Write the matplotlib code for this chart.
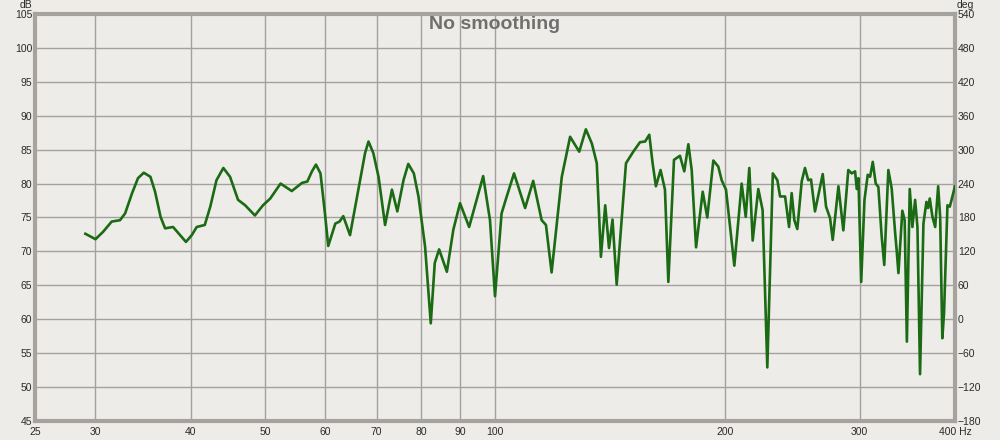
import matplotlib
matplotlib.use("Agg")
import matplotlib.pyplot as plt
from matplotlib.ticker import FixedLocator, FixedFormatter, NullLocator

# frequency response (Hz, dB SPL)
freq_hz = [
    29.1, 30.0, 30.7, 31.5, 32.3, 32.8, 33.5, 34.1, 34.7, 35.4, 35.9, 36.5,
    37.0, 37.9, 38.5, 39.4, 40.1, 40.7, 41.7, 42.4, 43.2, 44.1, 45.0, 46.1,
    47.1, 48.5, 49.7, 50.8, 52.4, 54.2, 55.9, 56.8, 57.6, 58.3, 59.1, 59.9,
    60.5, 61.8, 62.6, 63.3, 64.6, 66.6, 67.6, 68.3, 69.3, 70.4, 71.8, 73.3,
    74.5, 75.9, 77.0, 78.3, 79.4, 81.0, 82.4, 83.4, 84.5, 86.5, 88.2, 90.0,
    92.5, 96.5, 98.5, 100.0, 102.0, 103.6, 105.9, 109.5, 112.2, 115.1, 116.6, 118.6,
    122.3, 125.4, 128.9, 131.5, 133.9, 135.9, 137.6, 139.4, 141.0, 142.5, 144.3, 148.4,
    151.7, 154.8, 157.2, 159.2, 160.8, 162.4, 164.7, 166.9, 168.6, 171.5, 174.6, 176.9,
    179.1, 180.9, 183.3, 187.0, 189.6, 193.1, 196.0, 198.0, 200.6, 205.7, 210.3, 212.9,
    215.2, 217.4, 221.1, 224.0, 227.2, 231.0, 234.2, 236.1, 239.7, 242.6, 244.5, 246.5,
    248.7, 252.0, 254.5, 257.0, 259.2, 262.3, 268.5, 271.2, 274.5, 276.7, 281.5, 285.7,
    290.0, 293.0, 296.0, 297.5, 299.0, 301.5, 304.5, 307.5, 309.7, 312.2, 315.0, 317.5,
    320.7, 323.2, 327.2, 330.5, 334.0, 335.5, 337.3, 341.3, 343.7, 346.0, 349.0, 351.8,
    354.7, 357.2, 360.0, 363.7, 367.0, 368.8, 370.7, 373.7, 376.8, 380.2, 382.5, 385.0,
    387.0, 391.0, 393.8, 400.0,
]
spl_db = [
    72.6, 71.8, 72.9, 74.4, 74.6, 75.6, 78.6, 80.8, 81.6, 81.0, 78.8, 75.1,
    73.4, 73.6, 72.7, 71.4, 72.4, 73.6, 73.9, 76.6, 80.5, 82.3, 81.0, 77.6,
    76.8, 75.3, 76.8, 77.8, 80.0, 78.9, 80.1, 80.3, 81.8, 82.8, 81.5, 75.6,
    70.8, 74.1, 74.4, 75.2, 72.4, 80.5, 84.5, 86.2, 84.5, 81.0, 73.9, 79.1,
    75.9, 80.5, 82.9, 81.5, 78.1, 70.7, 59.4, 68.3, 70.3, 67.0, 73.2, 77.1,
    73.6, 81.1, 74.6, 63.4, 75.6, 78.1, 81.5, 76.4, 80.4, 74.6, 73.9, 66.9,
    81.0, 86.9, 84.7, 88.0, 85.9, 83.0, 69.2, 76.8, 70.5, 74.7, 65.1, 83.0,
    84.7, 86.1, 86.2, 87.2, 83.0, 79.6, 82.0, 79.1, 65.5, 83.5, 84.1, 81.8,
    85.8, 82.0, 70.6, 78.8, 75.0, 83.4, 82.5, 80.5, 79.1, 67.9, 80.0, 75.1,
    82.3, 71.6, 79.2, 76.1, 52.9, 81.5, 80.5, 78.1, 78.1, 73.6, 78.6, 74.6,
    73.3, 80.3, 82.3, 80.5, 80.6, 75.9, 81.4, 76.6, 74.9, 71.7, 79.6, 73.1,
    82.0, 81.5, 81.8, 79.2, 80.8, 65.5, 77.6, 81.3, 81.0, 83.2, 80.0, 79.5,
    72.2, 68.0, 82.0, 79.3, 72.7, 70.2, 66.8, 76.0, 74.6, 56.7, 79.2, 73.6,
    77.6, 73.6, 51.9, 74.1, 77.3, 76.4, 77.8, 75.1, 73.6, 79.6, 75.1, 57.2,
    60.9, 76.8, 76.6, 79.6,
]

x_ticks = [25, 30, 40, 50, 60, 70, 80, 90, 100, 200, 300, 400]
x_labels = ["25", "30", "40", "50", "60", "70", "80", "90", "100", "200", "300", "400 Hz"]
db_ticks = list(range(45, 106, 5))
deg_ticks = list(range(-180, 541, 60))

bg = "#eeece9"
grid_col = "#a3a09d"
frame_col = "#a6a29e"
text_col = "#2a2a2a"

plt.rcParams["font.family"] = ["Liberation Sans", "DejaVu Sans"]

fig = plt.figure(figsize=(10, 4.4), dpi=100, facecolor=bg)
ax = fig.add_axes([0.035, 0.0432, 0.92, 0.925], facecolor=bg)

ax.plot(freq_hz, spl_db, color="#1b6a14", lw=1.9, solid_joinstyle="round", zorder=3)

ax.set_xscale("log")
ax.set_xlim(25, 400)
ax.set_ylim(45, 105)
ax.xaxis.set_major_locator(FixedLocator(x_ticks))
ax.xaxis.set_major_formatter(FixedFormatter(x_labels))
ax.xaxis.set_minor_locator(NullLocator())
ax.set_yticks(db_ticks)
ax.grid(True, color=grid_col, lw=1.0)
ax.tick_params(length=0, labelsize=7.5, colors=text_col, pad=2)
ax.tick_params(axis="x", pad=4)

for s in ax.spines.values():
    s.set_color(frame_col)
    s.set_linewidth(3)

ax2 = ax.twinx()
ax2.set_ylim(-180, 540)
ax2.set_yticks(deg_ticks)
ax2.tick_params(length=0, labelsize=7.5, colors=text_col, pad=2)
for s in ax2.spines.values():
    s.set_visible(False)

fig.text(0.020, 0.988, "dB", fontsize=7.5, color=text_col, ha="left", va="center")
fig.text(0.957, 0.988, "deg", fontsize=7.5, color=text_col, ha="left", va="center")
ax.text(0.5, 0.975, "No smoothing", transform=ax.transAxes, ha="center", va="center",
        fontsize=14, fontweight="bold", color="#6f6f6f")

fig.savefig("out.png", dpi=100, facecolor=bg)
